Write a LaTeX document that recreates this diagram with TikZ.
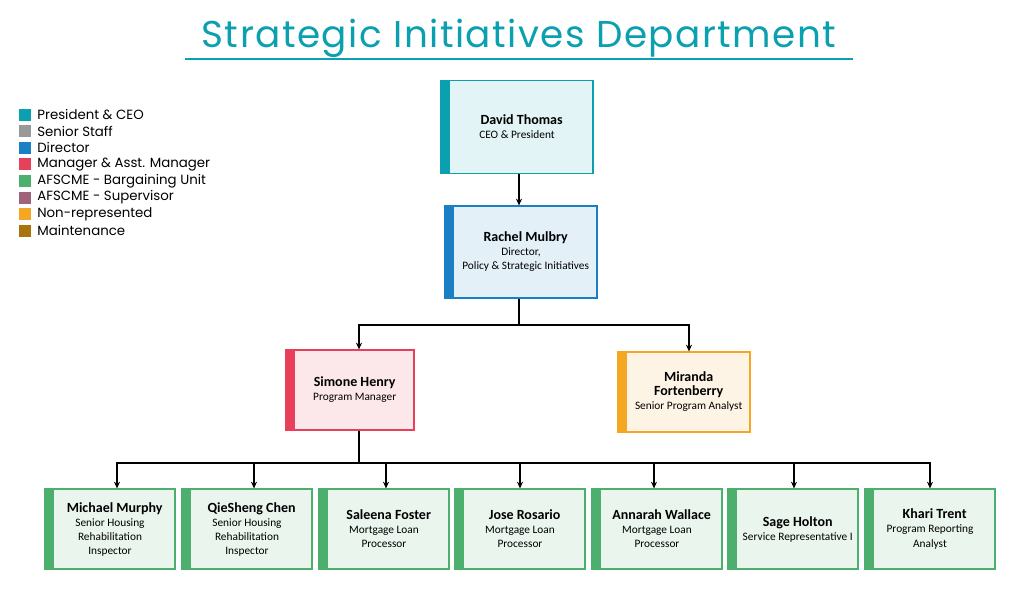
\documentclass[tikz,border=0pt]{standalone}
\usepackage{fontspec}
\setmainfont{Carlito}
\newfontfamily\titlefont{Poppins}[LetterSpace=4]
\newfontfamily\keyfont{Poppins}
\usetikzlibrary{arrows.meta,positioning}
\definecolor{ceoc}{HTML}{0AA0B0}
\definecolor{dirc}{HTML}{1B7FC4}
\definecolor{mgrc}{HTML}{E8405A}
\definecolor{unitc}{HTML}{4CAF6E}
\definecolor{nonrepc}{HTML}{F5A623}
\definecolor{staffc}{HTML}{999999}
\definecolor{supc}{HTML}{9E6378}
\definecolor{maintc}{HTML}{A8740C}
\tikzset{
	orgbox/.style={rectangle, draw=#1, fill=#1!12, line width=0.9pt, minimum height=60pt,
		align=center, font=\fontsize{8.5}{10.5}\selectfont, inner sep=2pt,
		path picture={\fill[#1] (path picture bounding box.north west) rectangle ([xshift=7pt]path picture bounding box.south west);}},
	link/.style={line width=0.8pt, -{Stealth[length=5pt,width=4.5pt]}},
	keysq/.style={rectangle, fill=#1, minimum size=9pt, inner sep=0pt}
}
\newcommand{\who}[1]{{\bfseries\fontsize{10.5}{12.5}\selectfont #1}\\}
\begin{document}
\begin{tikzpicture}[x=0.75pt,y=-0.75pt]
	\useasboundingbox (0,0) rectangle (1024,609);
	% title
	\node (title) at (519,38) {\titlefont\fontsize{28}{30}\selectfont\color{ceoc} Strategic Initiatives Department};
	\draw [ceoc,line width=1.2pt] (185,59) -- (853,59);
	% legend
	\foreach \c/\t [count=\i] in {ceoc/President \& CEO,staffc/Senior Staff,dirc/Director,mgrc/Manager \& Asst. Manager,unitc/AFSCME - Bargaining Unit,supc/AFSCME - Supervisor,nonrepc/Non-represented,maintc/Maintenance}{
		\node [keysq=\c] (k\i) at (25,98+16.6*\i) {};
		\node [right=1pt of k\i, font=\keyfont\fontsize{10}{11}\selectfont] {\t};
	}
	% boxes
	\node [orgbox=ceoc, minimum width=114pt, minimum height=70pt] (david) at (517,127) {\hspace*{7pt}\who{David Thomas}CEO \& President};
	\node [orgbox=dirc, minimum width=114pt, minimum height=69pt] (rachel) at (521,252) {\hspace*{7pt}\who{Rachel Mulbry}Director,\\\hspace*{7pt}Policy \& Strategic Initiatives};
	\node [orgbox=mgrc, minimum width=96pt] (simone) at (350,390) {\hspace*{7pt}\who{Simone Henry}\hspace*{7pt}Program Manager};
	\node [orgbox=nonrepc, minimum width=99pt] (miranda) at (684,392) {\hspace*{7pt}\who{Miranda}\hspace*{7pt}\who{Fortenberry}\hspace*{7pt}Senior Program Analyst};
	\node [orgbox=unitc, minimum width=97.5pt] (michael) at (110,529) {\hspace*{7pt}\who{Michael Murphy}Senior Housing\\Rehabilitation\\Inspector};
	\node [orgbox=unitc, minimum width=97.5pt] (qiesheng) at (247,529) {\hspace*{7pt}\who{QieSheng Chen}Senior Housing\\Rehabilitation\\Inspector};
	\node [orgbox=unitc, minimum width=97.5pt] (saleena) at (384,529) {\hspace*{7pt}\who{Saleena Foster}Mortgage Loan\\Processor};
	\node [orgbox=unitc, minimum width=97.5pt] (jose) at (520,529) {\hspace*{7pt}\who{Jose Rosario}Mortgage Loan\\Processor};
	\node [orgbox=unitc, minimum width=97.5pt] (annarah) at (657,529) {\hspace*{7pt}\who{Annarah Wallace}Mortgage Loan\\Processor};
	\node [orgbox=unitc, minimum width=97.5pt] (sage) at (793,529) {\hspace*{7pt}\who{Sage Holton}\hspace*{7pt}Service Representative I};
	\node [orgbox=unitc, minimum width=97.5pt] (khari) at (930,529) {\hspace*{7pt}\who{Khari Trent}Program Reporting\\Analyst};
	% connectors
	\coordinate (fork1) at (519,325);
	\coordinate (fork2) at (359,463);
	\draw [link] (david.south -| fork1) -- (rachel.north -| fork1);
	\draw [line width=0.8pt] (rachel.south -| fork1) -- (fork1);
	\draw [link] (fork1) -| (simone.north -| fork2);
	\draw [link] (fork1) -| (miranda.north -| 689,0);
	\draw [line width=0.8pt] (simone.south -| fork2) -- (fork2);
	\foreach \n/\xx in {michael/117,qiesheng/254,saleena/386,jose/520,annarah/654,sage/794,khari/930}
		\draw [link] (fork2) -| (\n.north -| \xx,0);
\end{tikzpicture}
\end{document}
